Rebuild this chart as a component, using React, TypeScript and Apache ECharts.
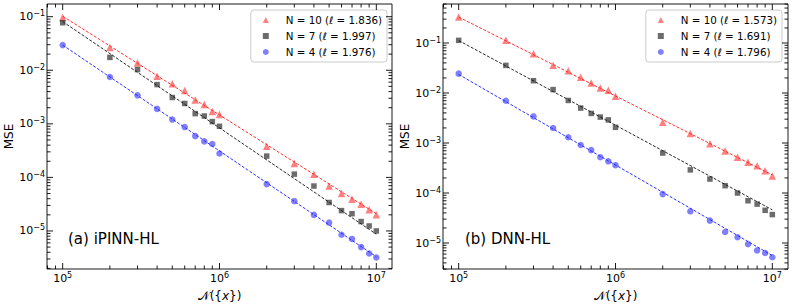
import React, { useEffect, useRef } from 'react';
import * as echarts from 'echarts';

const FONT = 'DejaVu Sans';

// shared sample sizes
const xValues = [1e5, 2e5, 3e5, 4e5, 5e5, 6e5, 7e5, 8e5, 9e5, 1e6, 2e6, 3e6, 4e6, 5e6, 6e6, 7e6, 8e6, 9e6, 1e7];

// (a) iPINN-HL
const ipinnN10 = [0.097, 0.0266, 0.0137, 0.0077, 0.0056, 0.0042, 0.0028, 0.0023, 0.0017, 0.0015, 3.8e-4, 1.82e-4, 1.15e-4, 6.9e-5, 5.0e-5, 3.9e-5, 3.15e-5, 2.5e-5, 2.0e-5];
const ipinnN7 = [0.077, 0.0174, 0.0103, 0.0054, 0.0031, 0.0024, 0.00155, 0.0014, 0.0011, 0.0009, 2.5e-4, 1.15e-4, 6.9e-5, 3.4e-5, 2.4e-5, 2.1e-5, 1.5e-5, 1.24e-5, 1.0e-5];
const ipinnN4 = [0.0295, 0.0075, 0.0034, 0.0019, 0.0012, 0.00087, 0.00059, 0.00047, 0.00042, 0.00028, 7.5e-5, 3.6e-5, 2.0e-5, 1.43e-5, 8.5e-6, 7.1e-6, 5.0e-6, 3.8e-6, 3.2e-6];
// fitted lines: value at x=1e5 and x=1e7
const ipinnFit10 = [0.102, 2.1e-5];
const ipinnFit7 = [0.081, 8.7e-6];
const ipinnFit4 = [0.0295, 3.3e-6];
const ipinnNames = ['N = 10 (ℓ = 1.836)', 'N = 7 (ℓ = 1.997)', 'N = 4 (ℓ = 1.976)'];

// (b) DNN-HL
const dnnN10 = [0.33, 0.113, 0.061, 0.0357, 0.028, 0.0206, 0.0158, 0.0126, 0.0113, 0.0086, 0.0026, 0.00154, 0.00097, 0.00069, 0.00052, 0.00041, 0.00035, 0.00028, 0.00022];
const dnnN7 = [0.113, 0.0357, 0.0176, 0.0117, 0.0071, 0.005, 0.0039, 0.0033, 0.0029, 0.00206, 0.00063, 0.00029, 0.00019, 0.00014, 0.0001, 7.0e-5, 6.0e-5, 4.5e-5, 3.7e-5];
const dnnN4 = [0.0244, 0.007, 0.0034, 0.002, 0.0013, 0.00091, 0.00072, 0.00052, 0.00043, 0.00036, 9.5e-5, 4.3e-5, 2.8e-5, 1.66e-5, 1.3e-5, 9.5e-6, 7.1e-6, 6.3e-6, 5.2e-6];
const dnnFit10 = [0.33, 2.3e-4];
const dnnFit7 = [0.112, 4.6e-5];
const dnnFit4 = [0.0235, 5.6e-6];
const dnnNames = ['N = 10 (ℓ = 1.573)', 'N = 7 (ℓ = 1.691)', 'N = 4 (ℓ = 1.796)'];

const fitX = [1e5, 1e7];
const panelTitles = ['(a) iPINN-HL', '(b) DNN-HL'];

// ticks
const xMajorTicks = [1e5, 1e6, 1e7];
const xMinorTicks = [8e4, 9e4, 2e5, 3e5, 4e5, 5e5, 6e5, 7e5, 8e5, 9e5, 2e6, 3e6, 4e6, 5e6, 6e6, 7e6, 8e6, 9e6];
const yMajorTicks = [1e-6, 1e-5, 1e-4, 1e-3, 1e-2, 1e-1, 1];
const yMinorTicks = [
  2e-6, 3e-6, 4e-6, 5e-6, 6e-6, 7e-6, 8e-6, 9e-6,
  2e-5, 3e-5, 4e-5, 5e-5, 6e-5, 7e-5, 8e-5, 9e-5,
  2e-4, 3e-4, 4e-4, 5e-4, 6e-4, 7e-4, 8e-4, 9e-4,
  2e-3, 3e-3, 4e-3, 5e-3, 6e-3, 7e-3, 8e-3, 9e-3,
  2e-2, 3e-2, 4e-2, 5e-2, 6e-2, 7e-2, 8e-2, 9e-2,
  2e-1, 3e-1, 4e-1, 5e-1, 6e-1, 7e-1, 8e-1, 9e-1,
];

const xRange = [Math.pow(10, 4.9), Math.pow(10, 7.1)];
const yRanges = [
  [Math.pow(10, -5.71), Math.pow(10, -0.763)],
  [Math.pow(10, -5.52), Math.pow(10, -0.22)],
];

const COLORS = {
  red: 'rgba(255,35,35,0.72)',
  black: 'rgba(20,20,20,0.78)',
  blue: 'rgba(35,35,255,0.72)',
};

const powFormatter = (v: number) => {
  const e = Math.log10(v);
  const r = Math.round(e);
  if (Math.abs(e - r) > 1e-6) return '';
  const s = r < 0 ? '\u2212' + String(-r) : String(r);
  return '10{sup|' + s + '}';
};

export default function App() {
  const ref = useRef<HTMLDivElement>(null);

  useEffect(() => {
    if (!ref.current) return;
    const chart = echarts.init(ref.current, undefined, { renderer: 'svg' });

    const grids = [
      { left: 47, top: 4, width: 345, height: 265 },
      { left: 443, top: 4, width: 345, height: 265 },
    ];

    const labelRich = {
      sup: { fontSize: 8, verticalAlign: 'top', fontFamily: FONT, color: '#000' },
    };

    const xAxes = grids.map((_, i) => ({
      type: 'log',
      logBase: 10,
      gridIndex: i,
      min: xRange[0],
      max: xRange[1],
      axisLine: { show: false },
      axisTick: { show: false },
      splitLine: { show: false },
      axisLabel: {
        customValues: xMajorTicks,
        formatter: powFormatter,
        margin: 2,
        color: '#000',
        fontSize: 11,
        fontFamily: FONT,
        lineHeight: 14,
        rich: labelRich,
      },
      name: '𝒩({{it|x}})',
      nameLocation: 'middle',
      nameGap: 18,
      nameTextStyle: {
        fontSize: 12,
        fontFamily: FONT,
        color: '#000',
        rich: { it: { fontSize: 12, fontFamily: FONT, fontStyle: 'italic', color: '#000' } },
      },
    }));

    const yAxes = grids.map((_, i) => ({
      type: 'log',
      logBase: 10,
      gridIndex: i,
      min: yRanges[i][0],
      max: yRanges[i][1],
      axisLine: { show: false },
      axisTick: { show: false },
      splitLine: { show: false },
      axisLabel: {
        customValues: yMajorTicks.filter((v) => v >= yRanges[i][0] && v <= yRanges[i][1]),
        formatter: powFormatter,
        margin: 2,
        color: '#000',
        fontSize: 11,
        fontFamily: FONT,
        lineHeight: 14,
        rich: labelRich,
      },
      name: 'MSE',
      nameLocation: 'middle',
      nameGap: 31,
      nameTextStyle: { fontSize: 12, fontFamily: FONT, color: '#000' },
    }));

    const tickStyle = { stroke: '#000', lineWidth: 0.9 };

    const xTickSeries = (gi: number) => ({
      type: 'custom',
      xAxisIndex: gi,
      yAxisIndex: gi,
      silent: true,
      z: 5,
      data: [
        ...xMajorTicks.map((v) => [v, 1e-3, 1]),
        ...xMinorTicks.map((v) => [v, 1e-3, 0]),
      ],
      encode: { x: 0, y: 1 },
      renderItem: (params: any, api: any) => {
        const v = api.value(0);
        const major = api.value(2) === 1;
        const pt = api.coord([v, 1e-3]);
        const cs = params.coordSys;
        const x = pt[0];
        if (x < cs.x - 0.5 || x > cs.x + cs.width + 0.5) return null;
        const len = major ? 6 : 3.5;
        const b = cs.y + cs.height;
        return {
          type: 'group',
          children: [
            { type: 'line', shape: { x1: x, y1: b, x2: x, y2: b - len }, style: tickStyle },
            { type: 'line', shape: { x1: x, y1: cs.y, x2: x, y2: cs.y + len }, style: tickStyle },
          ],
        };
      },
    });

    const yTickSeries = (gi: number) => ({
      type: 'custom',
      xAxisIndex: gi,
      yAxisIndex: gi,
      silent: true,
      z: 5,
      data: [
        ...yMajorTicks.map((v) => [1e6, v, 1]),
        ...yMinorTicks.map((v) => [1e6, v, 0]),
      ],
      encode: { x: 0, y: 1 },
      renderItem: (params: any, api: any) => {
        const v = api.value(1);
        const major = api.value(2) === 1;
        const pt = api.coord([1e6, v]);
        const cs = params.coordSys;
        const y = pt[1];
        if (y < cs.y - 0.5 || y > cs.y + cs.height + 0.5) return null;
        const len = major ? 6 : 3.5;
        const r = cs.x + cs.width;
        return {
          type: 'group',
          children: [
            { type: 'line', shape: { x1: cs.x, y1: y, x2: cs.x + len, y2: y }, style: tickStyle },
            { type: 'line', shape: { x1: r, y1: y, x2: r - len, y2: y }, style: tickStyle },
          ],
        };
      },
    });

    const panels = [
      { names: ipinnNames, data: [ipinnN10, ipinnN7, ipinnN4], fits: [ipinnFit10, ipinnFit7, ipinnFit4] },
      { names: dnnNames, data: [dnnN10, dnnN7, dnnN4], fits: [dnnFit10, dnnFit7, dnnFit4] },
    ];
    const symbols = ['triangle', 'rect', 'circle'];
    const symbolSizes = [7.5, 5.5, 6.5];
    const markerColors = [COLORS.red, COLORS.black, COLORS.blue];
    const lineColors = ['#ff1a1a', '#111111', '#1a1aff'];

    const series: any[] = [];
    panels.forEach((p, gi) => {
      p.fits.forEach((f, k) => {
        series.push({
          type: 'line',
          name: 'fit-' + gi + '-' + k,
          xAxisIndex: gi,
          yAxisIndex: gi,
          data: fitX.map((x, j) => [x, f[j]]),
          showSymbol: false,
          symbol: 'none',
          silent: true,
          z: 2,
          lineStyle: { color: lineColors[k], width: 0.9, type: [3, 1.6] },
        });
      });
      p.data.forEach((arr, k) => {
        series.push({
          type: 'scatter',
          name: p.names[k],
          xAxisIndex: gi,
          yAxisIndex: gi,
          symbol: symbols[k],
          symbolSize: symbolSizes[k],
          itemStyle: { color: markerColors[k] },
          data: xValues.map((x, j) => [x, arr[j]]),
          z: 3,
        });
      });
      series.push(xTickSeries(gi));
      series.push(yTickSeries(gi));
    });

    const legendCommon = {
      orient: 'vertical',
      top: 10,
      selectedMode: false,
      padding: [4, 5, 4, 12],
      itemGap: 4,
      itemWidth: 6,
      itemHeight: 6,
      borderColor: '#cccccc',
      borderWidth: 1,
      borderRadius: 3,
      backgroundColor: 'rgba(255,255,255,0.85)',
      textStyle: {
        fontSize: 10.3,
        fontFamily: FONT,
        color: '#000',
        lineHeight: 12,
        padding: [0, 0, 0, 12],
      },
    };

    chart.setOption({
      animation: false,
      textStyle: { fontFamily: FONT },
      grid: grids.map((g) => ({
        ...g,
        show: true,
        borderColor: '#1a1a1a',
        borderWidth: 1,
        backgroundColor: 'transparent',
        containLabel: false,
        outerBoundsMode: 'none',
      })),
      xAxis: xAxes,
      yAxis: yAxes,
      legend: [
        {
          ...legendCommon,
          right: 406,
          data: ipinnNames.map((n, k) => ({ name: n, icon: symbols[k] })),
        },
        {
          ...legendCommon,
          right: 11,
          data: dnnNames.map((n, k) => ({ name: n, icon: symbols[k] })),
        },
      ],
      graphic: [
        {
          type: 'text',
          x: 68,
          y: 239,
          style: { text: panelTitles[0], fontSize: 15, fontFamily: FONT, fill: '#000', verticalAlign: 'middle' },
        },
        {
          type: 'text',
          x: 465,
          y: 239,
          style: { text: panelTitles[1], fontSize: 15, fontFamily: FONT, fill: '#000', verticalAlign: 'middle' },
        },
      ],
      series,
    });

    return () => {
      chart.dispose();
    };
  }, []);

  return (
    <div
      ref={ref}
      style={{ position: 'absolute', left: 0, top: 0, width: 793, height: 306, background: '#fff' }}
    />
  );
}
